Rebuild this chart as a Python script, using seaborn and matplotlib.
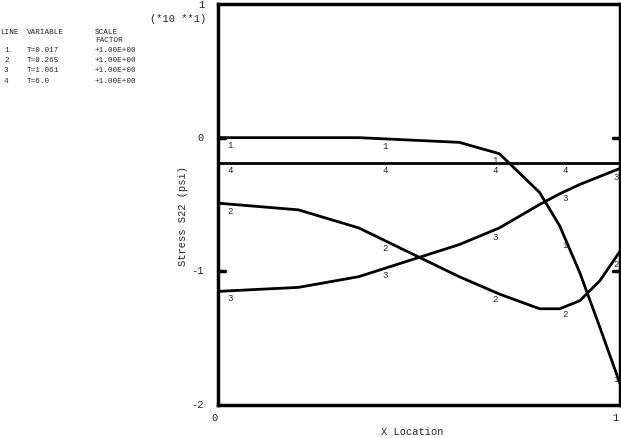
import numpy as np
import pandas as pd
import matplotlib
matplotlib.use("Agg")
import matplotlib.pyplot as plt
import seaborn as sns

# x stations along the path (normalised)
x_loc = [0.0, 0.2, 0.35, 0.6, 0.7, 0.8, 0.85, 0.9, 0.95, 1.0]

# stress S22 in units of 10**1 psi
s22_t0017 = [0.0, 0.0, 0.0, -0.035, -0.12, -0.41, -0.66, -1.01, -1.42, -1.84]
s22_t0265 = [-0.49, -0.54, -0.675, -1.04, -1.17, -1.28, -1.28, -1.22, -1.07, -0.85]
s22_t1061 = [-1.15, -1.12, -1.04, -0.80, -0.675, -0.50, -0.42, -0.35, -0.29, -0.23]
s22_t60 = [-0.19] * len(x_loc)

line_ids = ["1", "2", "3", "4"]
variables = ["T=0.017", "T=0.265", "T=1.061", "T=6.0"]
scale_factors = ["+1.00E+00"] * 4

# where the curve numbers are written
label_x = [0.03, 0.415, 0.69, 0.863, 0.99]

series = [s22_t0017, s22_t0265, s22_t1061, s22_t60]
frames = []
for lid, ys in zip(line_ids, series):
    frames.append(pd.DataFrame({"x": x_loc, "s22": ys, "line": lid}))
df = pd.concat(frames, ignore_index=True)

sns.set_style("white")
plt.rcParams["font.family"] = ["Liberation Mono", "DejaVu Sans Mono"]

fig = plt.figure(figsize=(6.21, 4.38), dpi=100)
ax = fig.add_axes([218 / 621, 33 / 438, 402 / 621, 401 / 438])

sns.lineplot(data=df, x="x", y="s22", hue="line", units="line", estimator=None,
             palette=["black"] * 4, linewidth=2, legend=False, ax=ax, sort=False)

for lid, ys in zip(line_ids, series):
    for lx in label_x:
        # the "4" at the right edge is overprinted by the "3" in the original
        if lid == "4" and lx > 0.95:
            continue
        ly = np.interp(lx, x_loc, ys)
        ax.annotate(lid, (lx, ly), xytext=(0, -3), textcoords="offset pixels",
                    ha="center", va="top", fontsize=6.5)

ax.set_xlim(0, 1)
ax.set_ylim(-2, 1)
ax.set_xticks([])
ax.set_yticks([])
for sp in ax.spines.values():
    sp.set_linewidth(2.5)
    sp.set_color("black")

# short inward ticks at 0 and -1 on both sides
for yv in [0, -1]:
    ax.plot([0, 0.018], [yv, yv], color="black", lw=2.5, clip_on=False)
    ax.plot([0.982, 1], [yv, yv], color="black", lw=2.5, clip_on=False)

ax.set_xlabel("")
ax.set_ylabel("")

tick_font = {"size": 7.5}
fig.text(201 / 621, 1 - 5 / 438, "1", ha="center", va="center", fontdict=tick_font)
fig.text(201 / 621, 1 - 138 / 438, "0", ha="center", va="center", fontdict=tick_font)
fig.text(198 / 621, 1 - 271 / 438, "-1", ha="center", va="center", fontdict=tick_font)
fig.text(198 / 621, 1 - 405 / 438, "-2", ha="center", va="center", fontdict=tick_font)
fig.text(178 / 621, 1 - 19 / 438, "(*10 **1)", ha="center", va="center", fontdict=tick_font)
fig.text(215 / 621, 1 - 418 / 438, "0", ha="center", va="center", fontdict=tick_font)
fig.text(615 / 621, 1 - 418 / 438, "1", ha="center", va="center", fontdict=tick_font)
fig.text(412 / 621, 1 - 432 / 438, "X Location", ha="center", va="center", fontdict=tick_font)
fig.text(183 / 621, 1 - 216 / 438, "Stress S22 (psi)", ha="center", va="center",
         rotation=90, fontdict=tick_font)

# legend table in the upper left
small = {"size": 5.5}
fig.text(0 / 621, 1 - 32 / 438, "LINE", va="center", fontdict=small)
fig.text(27 / 621, 1 - 32 / 438, "VARIABLE", va="center", fontdict=small)
fig.text(95 / 621, 1 - 32 / 438, "SCALE", va="center", fontdict=small)
fig.text(95 / 621, 1 - 40 / 438, "FACTOR", va="center", fontdict=small)
row_y = [51, 61, 71, 82]
for lid, var, sf, ry in zip(line_ids, variables, scale_factors, row_y):
    fig.text(4 / 621, 1 - ry / 438, lid, va="center", fontdict=small)
    fig.text(27 / 621, 1 - ry / 438, var, va="center", fontdict=small)
    fig.text(95 / 621, 1 - ry / 438, sf, va="center", fontdict=small)

fig.savefig("out.png", dpi=100)
